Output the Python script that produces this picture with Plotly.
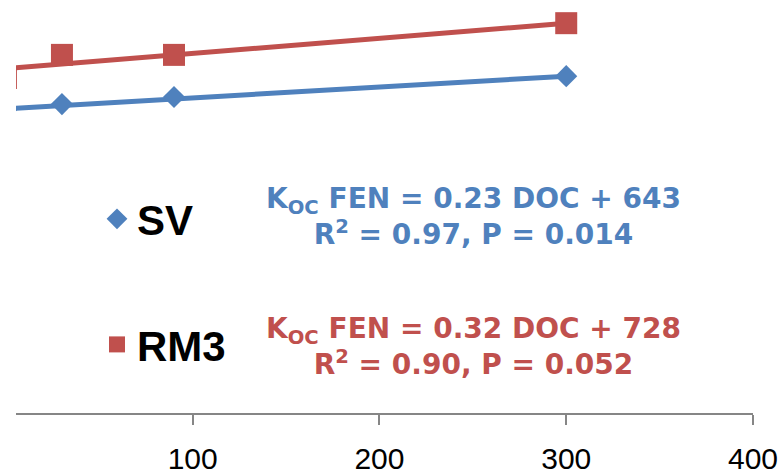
import plotly.graph_objects as go

# Data
sv_doc = [0, 30, 90, 300]
sv_koc = [640, 653, 668, 712]
rm3_doc = [0, 30, 90, 300]
rm3_koc = [708, 757, 757, 824]

sv_fit = (0.23, 643)   # slope, intercept
rm3_fit = (0.32, 728)

x_ticks = [100, 200, 300, 400]

BLUE = "#4F81BD"
RED = "#C0504D"

fig = go.Figure()

def fit_line(xs, coef):
    x0, x1 = min(xs), max(xs)
    return [x0, x1], [coef[0] * x0 + coef[1], coef[0] * x1 + coef[1]]

for xs, coef, col in [(sv_doc, sv_fit, BLUE), (rm3_doc, rm3_fit, RED)]:
    lx, ly = fit_line(xs, coef)
    fig.add_trace(go.Scatter(x=lx, y=ly, mode="lines", line=dict(color=col, width=5),
                             showlegend=False, hoverinfo="skip"))

fig.add_trace(go.Scatter(x=sv_doc, y=sv_koc, mode="markers", name="SV", legendgroup="a",
                         marker=dict(symbol="diamond", size=17, color=BLUE)))
fig.add_trace(go.Scatter(x=rm3_doc, y=rm3_koc, mode="markers", name="RM3", legendgroup="b",
                         marker=dict(symbol="square", size=22, color=RED)))

eq_font = dict(family="DejaVu Sans", size=28)
fig.add_annotation(xref="paper", yref="paper", x=(474 - 16) / 737, y=1 - 216 / 413,
                   xanchor="center", yanchor="middle",
                   text="<b>K<sub>OC</sub> FEN = 0.23 DOC + 643<br>R<sup>2</sup> = 0.97, P = 0.014</b>",
                   showarrow=False, font=dict(color=BLUE, **eq_font), align="center")
fig.add_annotation(xref="paper", yref="paper", x=(474 - 16) / 737, y=1 - 346 / 413,
                   xanchor="center", yanchor="middle",
                   text="<b>K<sub>OC</sub> FEN = 0.32 DOC + 728<br>R<sup>2</sup> = 0.90, P = 0.052</b>",
                   showarrow=False, font=dict(color=RED, **eq_font), align="center")

fig.update_layout(
    width=783, height=476,
    margin=dict(l=16, r=30, t=0, b=63),
    plot_bgcolor="white", paper_bgcolor="white",
    showlegend=True,
    legend=dict(x=(97 - 16) / 737, y=1 - 185 / 413, xanchor="left", yanchor="top",
                font=dict(family="Liberation Sans", size=42, color="black", weight="bold"),
                tracegroupgap=68, bgcolor="rgba(0,0,0,0)"),
    xaxis=dict(range=[5.4, 400], tickvals=x_ticks, ticks="outside", ticklen=10,
               tickcolor="#868686", tickwidth=2, showline=True, linecolor="#868686",
               linewidth=2, showgrid=False, zeroline=False, ticklabelstandoff=8,
               tickfont=dict(family="Liberation Sans", size=30, color="black")),
    yaxis=dict(range=[0, 873], visible=False, showgrid=False, zeroline=False),
)

fig.write_html("out.html")
